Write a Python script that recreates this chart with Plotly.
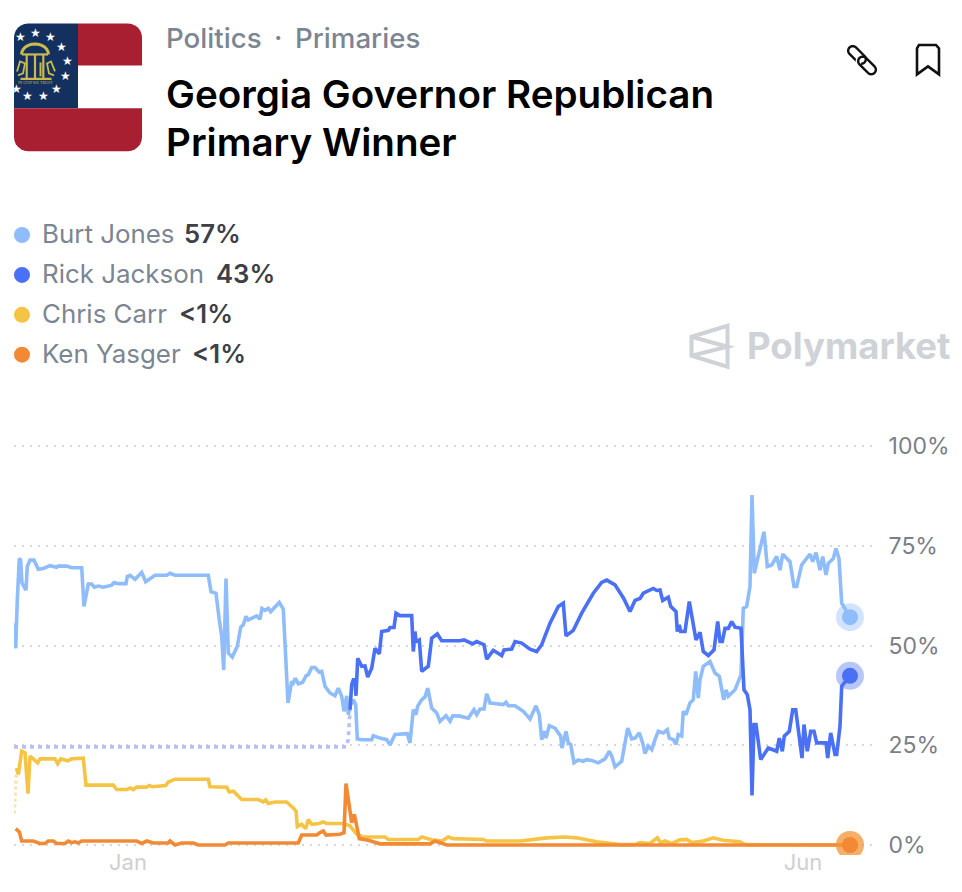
import math
import plotly.graph_objects as go

# x = chart sample index since market open, y = chance in percent
burt_x = [0,1.7,3.3,5.3,6.7,8,12,13.3,16,20,24.3,29.3,36,42.7,44.3,52.7,57.7,67.7,70,72,74.3,77.7,80.3,84.3,89.3,97.7,100,104.3,112,113.3,116,121,127.7,131.7,137.7,141,152.7,156,161,194.3,197,202,205.3,207.7,209.7,212,214.3,218.3,223.3,226.7,229.3,232,234.3,242.7,246,248,251,254.3,256.7,265.3,269.3,271.3,274,277.7,279.3,281.3,284.3,288.7,292,294.3,297.7,301,305.3,
307.7,311,316,321,324.3,327.7,330,332.7,334.3,336.7,339.3,341.7,343.3,347.7,357.7,359.3,366,372.7,376,381,393.3,396,399.3,402,403.7,407.7,411,413.7,417.7,422.7,426,432,436,438.7,446,454.3,460,462.7,466,470,472.7,476,482.7,489.3,492,494.3,501,509.3,516,522,525.3,527.7,530,532,535.3,541,546.7,548,552,554.3,556.7,560,564.3,569.3,572.7,577.7,584.3,591,595.3,597.7,601,607.7,613.7,617.7,621,625.3,
628.7,631,634.3,637.7,641,644.3,649.3,653.3,655.3,659.3,662,664.3,667.7,669.3,672,676,679.3,681.7,684.3,686,689.3,696,701,705.3,709.7,712,714.3,721,727,729.3,732.7,736,738,740.3,743.3,750,753.3,757.7,762.7,766,768.7,776,780,782.7,787.7,796,798.7,802,806,808.7,812,814.3,819.3,822,825,827.7,836]
burt_y = [55.6,49.3,61.4,71.8,71.4,65.6,63.9,69.8,71.4,71.4,69.1,69.3,70,69.6,69.9,69.9,69.5,69.5,59.8,62.3,65.4,65.4,64.6,64.9,64.6,65.1,65.8,65.5,65.5,67.3,67.6,66.6,68.3,66,67.1,67.6,67.6,68.1,67.6,67.6,63.5,63.1,56.4,52.3,43.9,66.8,48.1,47.1,49.8,54.6,55.2,57.3,56.4,57.4,56.6,59.3,58.8,59.3,58.5,60.8,59.1,48.9,35.6,41,40.6,41.8,40.4,40.8,42.4,42.7,44.5,44.5,43.3,
43.5,39.8,38.1,37.4,39.3,37.3,33.5,37.4,32.7,35.2,36.4,35.2,26.6,26.4,26.4,27.4,26.8,26.4,25.1,27.7,27.9,25.6,33.9,32.7,34.8,36.4,37.1,39.3,34.3,33.1,31,32.4,31,32.4,32.3,31.8,33.9,32.7,34.1,34.1,37.9,35.6,35.4,35.2,35.8,34.9,34.9,33.5,31.6,34.9,32.7,26.4,28.5,26.8,29.9,29.3,27.3,24.3,28.5,25.6,25.2,20.6,21.3,21,21.4,21.2,20.6,21.6,23.5,22.3,19.6,21,29.3,26.6,26.8,28.1,
25.6,22.9,24.8,23.9,26.4,28.5,28.1,28.9,26.8,26.4,25.2,27.7,27.3,33.5,32.7,35.6,36.4,43.5,36.8,41.4,44.8,46,43.1,42.3,36.4,38.9,37.3,38.9,42.7,59.3,59.8,64.8,87.7,68.1,71.4,78.5,69.8,70.2,72.3,68.9,72.9,71,64.8,64.8,70.2,72.9,71,73.3,68.9,72.3,67.7,70.6,71.8,74.3,71.8,60.6,57.1]

rick_lead_x = [0,332,334.3,336]
rick_lead_y = [24.6,24.6,26.4,33.9]
rick_x = [336,337.7,339.3,341,342,343.7,347.7,351,353.7,357.7,361,365.3,367.7,374.3,376,380,382,386,397.7,399.3,401,402,405.3,407.7,414.3,417.7,423.3,427.7,446,450,458.7,462.7,470,472.7,476,479.3,487.7,490,497.7,501,507.7,516,522.7,527.7,536,544.3,549.3,552,559.3,567.7,579.3,587.7,592.7,601,609.7,616,621,626,
629.3,639.3,642.7,646,648.7,654.3,656.7,662,663.3,665.3,666.7,671,675.3,679.3,682,686,689.3,694.3,700,703.7,706,708.3,711,714.3,717.7,721,727,730,733.3,736,738,740,742,746.7,754.3,762.7,765.3,768.3,770.3,775.3,778.7,781.7,784.3,788,790,793.3,796.7,800,802.7,812,813.7,816.7,821,822.7,826,827.7,836]
rick_y = [33.9,40.2,41.4,41.4,37.4,46.8,44.8,44.9,42.1,44.3,49.3,47.9,53.5,53.8,54.5,54.5,58.1,57.5,57.5,48.5,53.5,51,51.4,43.5,44.8,51.8,52.9,51.2,51.2,51.4,50.4,51,50.2,46.6,47.7,48.8,47.5,48.9,49.1,51,50.6,49.1,48.5,50.2,55.6,59.8,60.6,52.4,53.8,58.1,63.1,65.8,66.4,65.2,61.8,58.5,61.3,61.8,
63.1,64.3,63.8,63.9,61.3,62.1,59.8,58.5,53.5,55.2,53.5,53.5,61,54.8,51.4,53.3,48.5,47.5,48.9,56,51,51,54.3,54.3,56,54.6,54.3,38.9,37.7,33.9,12.4,30.2,30.2,21.4,24.3,23.5,26.8,23.5,27.3,28.5,33.9,33.9,28.5,21.8,30.2,23.5,28.5,28.5,25.6,25.6,21.8,28.1,22.7,22.7,29.8,39.8,42.4]

chris_lead_x = [0,2.7]
chris_lead_y = [7.9,19.3]
chris_x = [2.7,4.3,7.7,11,14,16,19.3,23.7,26,41,43.7,46.7,53.7,57.7,69.3,72,99.3,102.7,112.7,116,119.3,122.7,132.7,135,138.7,151.7,154.3,161,194.3,196,212.7,215.3,219.3,227.7,244.3,249.3,251.7,254.3,261,272.7,279.3,282,283.3,287.7,291.7,294.3,297.7,305.3,
309.3,312.7,329.3,336,342.7,349.3,371,374.3,404.3,407.7,417.7,427.7,434.3,439.3,469.3,472.7,506,532.7,551,562.7,582.7,606,621,626,636,643.3,646.7,651,657.7,666,672.7,677.7,689.3,699.3,709.3,726,729.3,732.7,836]
chris_y = [19.3,17.7,23.5,23.1,12.9,22.3,21.6,20.6,21.6,21.6,20.4,21.6,21.1,21.6,21.8,15,15,13.9,13.9,14.3,13.9,14.5,14.5,14.9,14.6,14.9,15.8,16.5,16.5,14.6,14.5,13.3,13.5,11.4,11.4,10.8,11.3,10.4,10.8,10.8,9.3,8.5,4.6,5.2,4.1,6.4,5.2,5.4,
5.8,5.4,5.4,4.8,2.7,2,2,1.4,1.4,2,1.3,1,2,1.6,1.4,1,1,1.8,2,1.8,0.8,0.1,0.1,0.6,0.4,1.8,0.6,1,0.4,1.3,1.4,0.6,1,1.8,1.2,0.8,0.3,0.1,0]

ken_x = [1.7,5.3,7.7,19.3,26,31,34.3,39.3,42.7,51,54.3,57.7,61,64.3,67.7,122.7,127.7,132.7,139.3,154.3,156,161,167.7,179.3,184.3,211,214.3,284.3,287.7,302.7,306,
309.3,312,326,330,332,337.7,340.3,345.3,354.3,366,416,421,432.7,836]
ken_y = [4.1,3.3,1,1,0.4,0.4,1,1,0.4,0.4,1,0.6,0.8,0.5,1,1,0.4,1,0.5,0.5,1,0,0.5,0.5,0,0,0.5,0.5,2.5,2.5,3.1,
3.5,2.5,2.7,3.1,15.4,5.6,7.7,1.6,1.2,0.3,0.3,1,0,0]

candidates = ["Burt Jones", "Rick Jackson", "Chris Carr", "Ken Yasger"]
chance_labels = ["57%", "43%", "<1%", "<1%"]
y_ticks = [0, 25, 50, 75, 100]
y_tick_labels = ["0%", "25%", "50%", "75%", "100%"]
x_ticks = [114, 789]
x_tick_labels = ["Jan", "Jun"]

BLUE_L, BLUE_D, YEL, ORG = "#8fbcfb", "#4a70f5", "#f6c445", "#f28a35"
colors = [BLUE_L, BLUE_D, YEL, ORG]
FONT = "Inter"
L, R, T, B = 14, 872, 443.5, 855.5

def px(x): return (x - L) / (R - L)
def py(y): return 1 - (y - T) / (B - T)
def P(*pts, close=False):
    s = "M" + " L".join(f"{px(a):.5f},{py(b):.5f}" for a, b in pts)
    return s + (" Z" if close else "")

def rounded(x0, y0, x1, y1, tl=0, tr=0, br=0, bl=0):
    pts = []
    def arc(cx, cy, r, a0):
        if r == 0:
            pts.append((cx, cy)); return
        for i in range(7):
            a = math.radians(a0 + 15 * i)
            pts.append((cx + r * math.cos(a), cy + r * math.sin(a)))
    arc(x0 + tl, y0 + tl, tl, 180)
    arc(x1 - tr, y0 + tr, tr, 270)
    arc(x1 - br, y1 - br, br, 0)
    arc(x0 + bl, y1 - bl, bl, 90)
    return P(*pts, close=True)

def stadium_pts(cx, cy, half, r, ang):
    pts = []
    ux, uy = math.cos(math.radians(ang)), math.sin(math.radians(ang))
    for sgn, a0 in ((1, ang - 90), (-1, ang + 90)):
        ex, ey = cx + sgn * half * ux, cy + sgn * half * uy
        for i in range(13):
            a = math.radians(a0 + 15 * i)
            pts.append((ex + r * math.cos(a), ey + r * math.sin(a)))
    return pts

shapes = []
def fill(path, color):
    shapes.append(dict(type="path", xref="paper", yref="paper", path=path, fillcolor=color, line=dict(width=0)))
def stroke(path, color, w):
    shapes.append(dict(type="path", xref="paper", yref="paper", path=path, line=dict(color=color, width=w)))
def dot(x, y, r, color):
    shapes.append(dict(type="circle", xref="paper", yref="paper", x0=px(x - r), x1=px(x + r),
                       y0=py(y + r), y1=py(y - r), fillcolor=color, line=dict(width=0)))

# flag
NAVY, RED, SEAL = "#14305e", "#a81f32", "#c9bb4e"
fill(rounded(14, 22, 78, 107, tl=14), NAVY)
fill(rounded(78, 22, 142, 64, tr=14), RED)
fill(rounded(14, 107, 142, 150, bl=14, br=14), RED)
# seal
stroke(P(*[(35 + 13.5 * math.cos(math.radians(a)), 53 + 10.5 * math.sin(math.radians(a))) for a in range(180, 361, 15)]), SEAL, 3)
stroke(P((22, 53), (48, 53)), SEAL, 2.2)
stroke(P((20.5, 77.5), (51.5, 77.5)), SEAL, 2.2)
for cx in (26.7, 35, 43.3):
    stroke(P((cx, 53), (cx, 77)), SEAL, 2.2)
stroke(P((17, 70), (20, 60), (25, 62), (23, 72), (18, 74)), SEAL, 1.8)
stroke(P((55, 70), (51, 60), (47, 62), (49, 72), (54, 74)), SEAL, 1.8)
stroke(P((40.5, 61), (40.5, 75)), SEAL, 2)

# link + bookmark icons
LK = "#111111"
up = stadium_pts(857, 53.5, 6, 4.6, 45)
lo = stadium_pts(867, 64, 6, 4.6, 45)
stroke(P(*up, close=True), LK, 2.4)
stroke(P(*lo[13:20]), "#ffffff", 5)
stroke(P(*lo, close=True), LK, 2.4)
stroke(P((917, 73), (917, 47), (919, 43.5), (936, 43.5), (939, 47), (939, 73), (928, 65), close=True), LK, 2.6)

# watermark logo
WM = "#cfd2d7"
stroke(P((691.5, 336), (727.5, 325), (727.5, 366), (691.5, 355), close=True), WM, 4)
stroke(P((691.5, 336), (727.5, 346), (691.5, 355)), WM, 4)

# legend dots
legend_y = [234, 274, 314, 354]
for yy, c in zip(legend_y, colors):
    dot(22, yy, 8, c)

ann = []
def text(x, y, s, size, color, weight=400, anchor="left", font=FONT):
    ann.append(dict(xref="paper", yref="paper", x=px(x), y=py(y), text=s, showarrow=False, borderpad=0,
                    xanchor=anchor, yanchor="middle", align=anchor,
                    font=dict(family=font, size=size, color=color, weight=weight)))

GRAY = "#7c8592"
text(165, 37, "Politics", 27.7, GRAY, 500)
text(273, 37, "·", 27.7, GRAY, 500)
text(293.5, 37, "Primaries", 27.7, GRAY, 500)
text(165, 92.5, "Georgia Governor Republican", 38.6, "#000000", 600)
text(165, 140.5, "Primary Winner", 38.6, "#000000", 600)
value_x = [183, 214.5, 178, 191]
for name, val, yy, vx in zip(candidates, chance_labels, legend_y, value_x):
    text(40.5, yy - 1.5, name, 25.9, GRAY, 400)
    text(vx, yy - 1.5, val, 25.7, "#3c4047", 600)
text(746, 345.5, "Polymarket", 36.5, WM, 700)
for (sx, sy) in [(20.7, 36.7), (35.3, 32.7), (50.3, 36.7), (61.3, 46.7), (67, 60.7), (65, 76),
                 (56.3, 88.3), (43, 95.3), (27.7, 95.3), (16, 88.3)]:
    text(sx, sy - 1, "★", 12, "#ffffff", anchor="center", font="DejaVu Sans")
text(35, 81.5, "IN GOD WE TRUST", 4, SEAL, anchor="center", font="Liberation Serif")

fig = go.Figure()
def line(x, y, c, dash="solid"):
    fig.add_trace(go.Scatter(x=x, y=y, mode="lines", hoverinfo="skip", showlegend=False,
                             line=dict(color=c, width=3.6, dash=dash, shape="linear")))
line(chris_lead_x, chris_lead_y, "#f9e3ad", "3px,3px")
line(rick_lead_x, rick_lead_y, "#b8c0f7", "4px,4px")
line(burt_x, burt_y, BLUE_L)
line(rick_x, rick_y, BLUE_D)
line(chris_x, chris_y, YEL)
line(ken_x, ken_y, ORG)
for xs, ys, c, op in [(burt_x, burt_y, BLUE_L, 0.4), (rick_x, rick_y, BLUE_D, 0.4),
                      (chris_x, chris_y, YEL, 0.4), (ken_x, ken_y, ORG, 0.6)]:
    fig.add_trace(go.Scatter(x=[xs[-1]], y=[ys[-1]], mode="markers", hoverinfo="skip", showlegend=False,
                             marker=dict(size=28, color=c, opacity=op, line=dict(width=0))))
    fig.add_trace(go.Scatter(x=[xs[-1]], y=[ys[-1]], mode="markers", hoverinfo="skip", showlegend=False,
                             marker=dict(size=16, color=c, line=dict(width=0))))

fig.update_layout(
    width=962, height=892, paper_bgcolor="#ffffff", plot_bgcolor="#ffffff",
    margin=dict(l=L, r=962 - R, t=T, b=892 - B, pad=0, autoexpand=False),
    shapes=shapes, annotations=ann, font=dict(family=FONT), showlegend=False,
    xaxis=dict(range=[0, R - L], tickmode="array", tickvals=x_ticks, ticktext=x_tick_labels, automargin=False,
               showgrid=False, zeroline=False, showline=False, ticks="", ticklabelstandoff=-8,
               tickfont=dict(family=FONT, size=22, color="#cfcfcf")),
    yaxis=dict(range=[-2.5, 100.5], side="right", tickmode="array", tickvals=y_ticks, ticktext=y_tick_labels, automargin=False,
               showgrid=True, gridcolor="#d6d8dc", gridwidth=1.5, griddash="2px,6px", zeroline=False, showline=False,
               ticks="outside", ticklen=11, tickcolor="rgba(0,0,0,0)",
               tickfont=dict(family=FONT, size=23, color="#7b7f88")),
)
fig.write_html("out.html", config={"displayModeBar": False},
               post_script="document.body.style.margin='0';document.body.style.overflow='hidden';")
